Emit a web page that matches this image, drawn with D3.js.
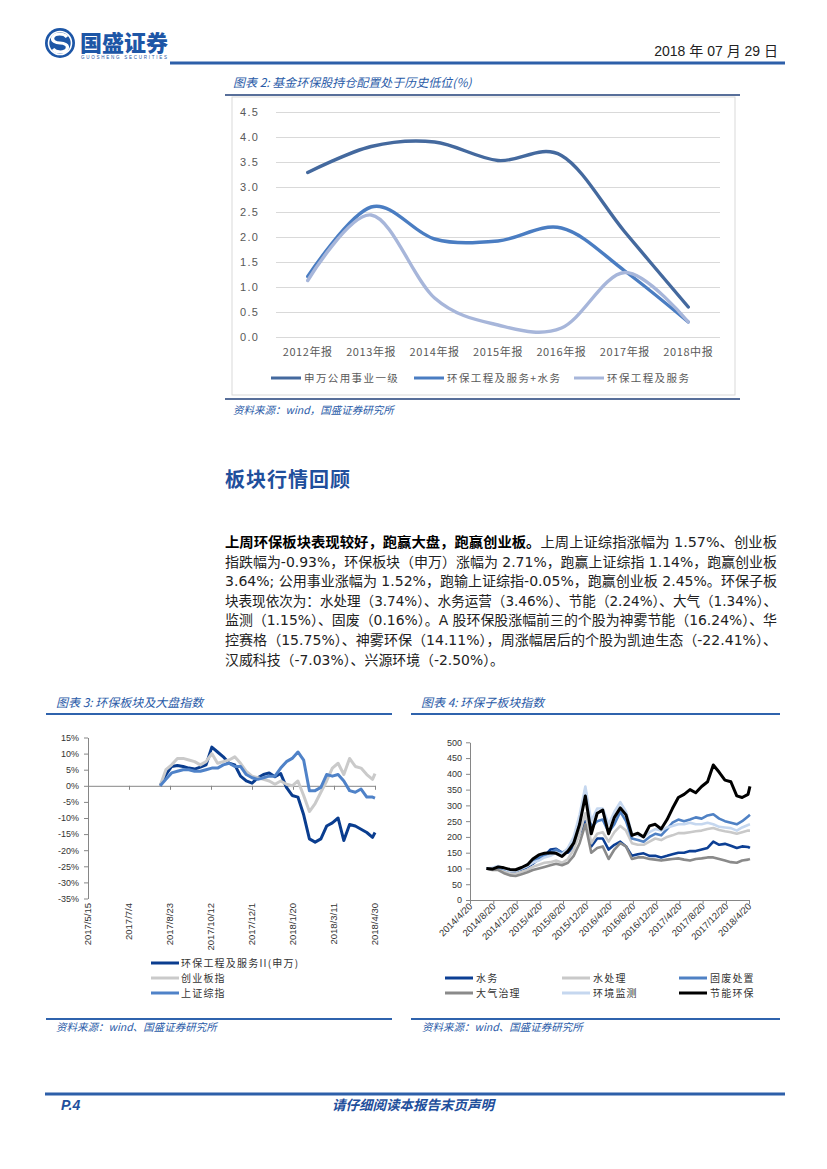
<!DOCTYPE html>
<html>
<head>
<meta charset="utf-8">
<script src="https://cdn.jsdelivr.net/npm/d3@7"></script>
<style>
  body { margin: 0; background: #fff; }
  svg { display: block; font-family: "Liberation Sans", Arial, "Noto Sans CJK SC", sans-serif; }
  .cjk { font-family: "Noto Sans CJK SC", sans-serif; }
  .axis path, .axis line { stroke: #868686; }
</style>
</head>
<body>
<div id="page"></div>
<script>
// ---- chart 2: fund holdings (%)
var years2 = ["2012年报", "2013年报", "2014年报", "2015年报", "2016年报", "2017年报", "2018中报"];
var utility2 = [3.29, 3.81, 3.90, 3.53, 3.63, 2.10, 0.60];
var envWater2 = [1.21, 2.60, 1.96, 1.92, 2.18, 1.32, 0.30];
var envEng2 = [1.13, 2.44, 0.78, 0.24, 0.18, 1.29, 0.30];
var names2 = ["申万公用事业一级", "环保工程及服务+水务", "环保工程及服务"];

// ---- chart 3: sector vs market (weekly readings)
var dates3 = ["2017-08-11", "2017-08-18", "2017-08-25", "2017-09-01", "2017-09-08", "2017-09-15", "2017-09-22",
  "2017-09-29", "2017-10-06", "2017-10-13", "2017-10-20", "2017-10-27", "2017-11-03", "2017-11-10", "2017-11-17",
  "2017-11-24", "2017-12-01", "2017-12-08", "2017-12-15", "2017-12-22", "2017-12-29", "2018-01-05", "2018-01-12",
  "2018-01-19", "2018-01-26", "2018-02-02", "2018-02-09", "2018-02-16", "2018-02-23", "2018-03-02", "2018-03-09",
  "2018-03-16", "2018-03-23", "2018-03-30", "2018-04-06", "2018-04-13", "2018-04-20", "2018-04-27", "2018-04-30"];
var envSvc3 = [0, 3.5, 6.0, 6.3, 6.0, 5.5, 5.2, 5.8, 6.5, 12.0, 10.5, 9.0, 7.0, 6.5, 3.0, 1.5, 0.8, 2.5, 3.5,
  4.0, 2.8, 3.8, -0.5, -3.0, -3.5, -9.0, -16.5, -17.5, -16.5, -12.5, -11.5, -10.0, -17.0, -12.0, -12.5, -13.5,
  -14.5, -16.0, -14.5];
var gem3 = [0, 5.0, 6.5, 8.5, 8.5, 8.0, 7.5, 6.5, 7.5, 10.0, 7.0, 7.5, 8.0, 9.0, 7.0, 4.5, 3.0, 2.5, 2.0, 1.5,
  0.5, 1.5, 0.5, 0.0, 1.5, -3.0, -8.0, -5.5, -2.0, 1.5, 5.5, 7.0, 3.5, 8.5, 6.0, 5.5, 3.5, 2.0, 3.8];
var sh3 = [0, 2.0, 4.0, 4.5, 5.0, 5.0, 4.5, 4.5, 5.0, 5.5, 5.5, 6.5, 7.0, 6.0, 6.0, 3.5, 2.5, 2.0, 2.5, 3.0,
  3.0, 5.5, 7.5, 8.5, 10.5, 8.0, -1.5, -1.5, -0.5, 3.5, 3.0, 3.5, 1.5, -1.5, -2.0, -1.0, -3.5, -3.5, -3.8];
var names3 = ["环保工程及服务II(申万)", "创业板指", "上证综指"];
var ticks3 = ["2017/5/15", "2017/7/4", "2017/8/23", "2017/10/12", "2017/12/1", "2018/1/20", "2018/3/11", "2018/4/30"];

// ---- chart 4: sub-sector indices (monthly readings)
var dates4 = ["2014-07-15", "2014-08-15", "2014-09-15", "2014-10-15", "2014-11-15", "2014-12-15",
  "2015-01-15", "2015-02-15", "2015-03-15", "2015-04-15", "2015-05-15", "2015-06-15", "2015-07-15", "2015-08-15",
  "2015-09-15", "2015-10-15", "2015-11-15", "2015-12-15", "2016-01-15", "2016-02-15", "2016-03-15", "2016-04-15",
  "2016-05-15", "2016-06-15", "2016-07-15", "2016-08-15", "2016-09-15", "2016-10-15", "2016-11-15", "2016-12-15",
  "2017-01-15", "2017-02-15", "2017-03-15", "2017-04-15", "2017-05-15", "2017-06-15", "2017-07-15", "2017-08-15",
  "2017-09-15", "2017-10-15", "2017-11-15", "2017-12-15", "2018-01-15", "2018-02-15", "2018-03-15", "2018-04-15",
  "2018-04-25"];
var water4 = [100, 98, 102, 95, 88, 88, 95, 105, 115, 130, 140, 160, 162, 150, 150, 170, 210, 250, 170, 195, 195,
  160, 175, 185, 170, 140, 145, 148, 140, 140, 135, 140, 145, 150, 150, 155, 155, 160, 165, 185, 175, 178, 172,
  165, 170, 168, 165];
var treat4 = [100, 97, 100, 92, 85, 84, 90, 96, 105, 112, 118, 120, 125, 118, 130, 160, 210, 275, 180, 210, 215,
  185, 215, 235, 220, 180, 175, 175, 185, 195, 190, 200, 205, 212, 212, 215, 218, 220, 225, 228, 222, 218, 215,
  210, 215, 220, 220];
var solid4 = [100, 100, 103, 98, 93, 92, 100, 108, 120, 135, 140, 150, 160, 150, 160, 190, 250, 350, 230, 250, 255,
  215, 240, 280, 250, 195, 190, 185, 200, 210, 205, 225, 245, 255, 250, 255, 262, 258, 268, 272, 258, 250, 245,
  240, 250, 265, 270];
var air4 = [100, 95, 95, 85, 78, 76, 82, 88, 95, 100, 105, 110, 115, 110, 118, 140, 180, 240, 150, 165, 170, 130,
  160, 180, 170, 130, 135, 135, 130, 128, 125, 128, 130, 132, 128, 125, 130, 132, 135, 135, 130, 125, 120, 118,
  125, 128, 130];
var monitor4 = [100, 102, 108, 100, 92, 92, 100, 108, 118, 125, 135, 140, 150, 145, 165, 200, 270, 360, 250, 290,
  290, 240, 280, 310, 280, 210, 205, 200, 215, 225, 220, 230, 235, 240, 240, 245, 240, 240, 245, 240, 232, 230,
  228, 220, 230, 238, 240];
var energy4 = [100, 98, 105, 102, 97, 96, 103, 112, 130, 143, 148, 150, 148, 138, 155, 180, 240, 330, 210, 275,
  285, 210, 262, 292, 270, 205, 212, 200, 235, 240, 225, 255, 290, 325, 335, 350, 340, 360, 375, 428, 405, 380,
  375, 330, 325, 335, 360];
var names4 = ["水务", "水处理", "固废处置", "大气治理", "环境监测", "节能环保"];
var ticks4 = ["2014/4/20", "2014/8/20", "2014/12/20", "2015/4/20", "2015/8/20", "2015/12/20", "2016/4/20",
  "2016/8/20", "2016/12/20", "2017/4/20", "2017/8/20", "2017/12/20", "2018/4/20"];

var paragraph = [
  ["上周环保板块表现较好，跑赢大盘，跑赢创业板。", "上周上证综指涨幅为 1.57%、创业板"],
  ["", "指跌幅为-0.93%，环保板块（申万）涨幅为 2.71%，跑赢上证综指 1.14%，跑赢创业板"],
  ["", "3.64%; 公用事业涨幅为 1.52%，跑输上证综指-0.05%，跑赢创业板 2.45%。环保子板"],
  ["", "块表现依次为：水处理（3.74%）、水务运营（3.46%）、节能（2.24%）、大气（1.34%）、"],
  ["", "监测（1.15%）、固废（0.16%）。A 股环保股涨幅前三的个股为神雾节能（16.24%）、华"],
  ["", "控赛格（15.75%）、神雾环保（14.11%），周涨幅居后的个股为凯迪生态（-22.41%）、"],
  ["", "汉威科技（-7.03%）、兴源环境（-2.50%）。"]
];

var blue = "#1f4f9c";
var width = 827, height = 1169;
var parseDash = d3.timeParse("%Y-%m-%d");
var parseSlash = d3.timeParse("%Y/%m/%d");

var svg = d3.select("#page").append("svg")
  .attr("width", width)
  .attr("height", height);
svg.append("rect").attr("width", width).attr("height", height).attr("fill", "#fff");

// ---- header
var logo = svg.append("g");
logo.append("circle").attr("cx", 60).attr("cy", 43).attr("r", 15).attr("fill", "#1d56a6");
logo.append("circle").attr("cx", 60).attr("cy", 43).attr("r", 11.5).attr("fill", "none")
  .attr("stroke", "#fff").attr("stroke-width", 1.6);
logo.append("path")
  .attr("d", "M67,37 C64,33 55,33 53,37 C51,41 56,43 60,43 C64,43 69,45 67,49 C65,53 56,53 53,49")
  .attr("fill", "none").attr("stroke", "#fff").attr("stroke-width", 3.2);
svg.append("text").attr("class", "cjk").attr("x", 80).attr("y", 51)
  .attr("font-size", 22).attr("font-weight", 900).attr("fill", "#1d56a6")
  .attr("textLength", 88).attr("lengthAdjust", "spacingAndGlyphs").text("国盛证券");
svg.append("text").attr("x", 81).attr("y", 59).attr("font-size", 4.5).attr("fill", "#1d56a6")
  .attr("textLength", 86).text("GUOSHENG SECURITIES");
svg.append("text").attr("x", 778).attr("y", 56).attr("text-anchor", "end").attr("font-size", 14)
  .attr("fill", "#222").text("2018 年 07 月 29 日");
svg.append("line").attr("x1", 170).attr("x2", 785).attr("y1", 63).attr("y2", 63)
  .attr("stroke", "#2d5fa9").attr("stroke-width", 3);

function title(x, y, s, size) {
  svg.append("text").attr("class", "cjk").attr("x", x).attr("y", y)
    .attr("font-size", size).attr("font-style", "italic").attr("fill", "#2a5ba8").text(s);
}
function rule(x1, x2, y, color, w) {
  svg.append("line").attr("x1", x1).attr("x2", x2).attr("y1", y).attr("y2", y)
    .attr("stroke", color).attr("stroke-width", w);
}

// ---- chart 2
title(233, 87, "图表 2: 基金环保股持仓配置处于历史低位(%)", 12);
rule(225, 740, 95, "#203f78", 1.5);
svg.append("rect").attr("x", 232).attr("y", 97).attr("width", 503).attr("height", 298)
  .attr("fill", "none").attr("stroke", "#d9d9d9");

var x2 = d3.scaleBand().domain(years2).range([276, 720]);
var y2 = d3.scaleLinear().domain([0, 4.5]).range([337, 112]);

var yAxis2 = svg.append("g").attr("transform", "translate(276,0)")
  .call(d3.axisLeft(y2).tickValues(y2.ticks(9)).tickSize(-444).tickPadding(17).tickFormat(d3.format(".1f")));
yAxis2.select(".domain").remove();
yAxis2.selectAll("line").attr("stroke", "#d9d9d9");
yAxis2.selectAll("text").attr("fill", "#595959").attr("font-size", 11).attr("letter-spacing", 1.2);

var xAxis2 = svg.append("g").attr("transform", "translate(0,337)")
  .call(d3.axisBottom(x2).tickSize(0).tickPadding(11));
xAxis2.select(".domain").remove();
xAxis2.selectAll("text").attr("class", "cjk").attr("fill", "#595959").attr("font-size", 11).attr("letter-spacing", 0.6);

var series2 = [utility2, envWater2, envEng2];
var colors2 = ["#44699e", "#4a7dc2", "#a7b6da"];
var line2 = d3.line()
  .x(function(d, i) { return x2(years2[i]) + x2.bandwidth() / 2; })
  .y(function(d) { return y2(d); })
  .curve(d3.curveCatmullRom.alpha(0));
svg.selectAll(".s2").data(series2).enter().append("path")
  .attr("d", line2).attr("fill", "none")
  .attr("stroke", function(d, i) { return colors2[i]; })
  .attr("stroke-width", 3.4).attr("stroke-linecap", "round");

var legX2 = [271, 414, 574];
names2.forEach(function(n, i) {
  rule(legX2[i], legX2[i] + 30, 378, colors2[i], 3);
  svg.append("text").attr("class", "cjk").attr("x", legX2[i] + 33).attr("y", 382)
    .attr("font-size", 10.5).attr("letter-spacing", 1.4).attr("fill", "#595959").text(n);
});
rule(225, 740, 399, "#203f78", 1.5);
title(233, 414, "资料来源：wind，国盛证券研究所", 10.5);

// ---- section title and text
svg.append("text").attr("class", "cjk").attr("x", 225).attr("y", 487)
  .attr("font-size", 20).attr("font-weight", 700).attr("letter-spacing", 1).attr("fill", blue)
  .text("板块行情回顾");

paragraph.forEach(function(p, i) {
  var t = svg.append("text").attr("x", 225).attr("y", 547 + i * 19.6)
    .attr("font-size", 14).attr("fill", "#222")
    .style("font-family", "'DejaVu Sans', 'Noto Sans CJK SC', sans-serif");
  if (p[0]) t.append("tspan").attr("font-weight", 700).attr("fill", "#000")
    .style("font-family", "'Noto Sans CJK SC', sans-serif").text(p[0]);
  t.append("tspan").text(p[1]);
  t.attr("textLength", i < paragraph.length - 1 ? 552 : 279).attr("lengthAdjust", "spacingAndGlyphs");
});

// ---- chart 3
title(56, 707, "图表 3: 环保板块及大盘指数", 12);
rule(46, 392, 714, "#2f63ad", 2);

var x3 = d3.scaleTime().domain([parseSlash(ticks3[0]), parseSlash(ticks3[ticks3.length - 1])]).range([88, 375]);
var y3 = d3.scaleLinear().domain([-35, 15]).range([898.5, 737.5]);

var yAxis3 = svg.append("g").attr("class", "axis").attr("transform", "translate(88,0)")
  .call(d3.axisLeft(y3).tickValues(d3.range(-35, 16, 5)).tickSize(4).tickSizeOuter(0).tickPadding(5)
    .tickFormat(function(d) { return d + "%"; }));
yAxis3.selectAll("text").attr("font-size", 9).attr("fill", "#333");

var xAxis3 = svg.append("g").attr("class", "axis").attr("transform", "translate(0," + y3(0) + ")")
  .call(d3.axisBottom(x3).tickValues(ticks3.map(parseSlash)).tickSize(4).tickSizeOuter(0).tickFormat(""));

svg.selectAll(".t3").data(ticks3).enter().append("text")
  .attr("transform", function(d) { return "translate(" + (x3(parseSlash(d)) + 3) + ",903) rotate(-90)"; })
  .attr("text-anchor", "end").attr("font-size", 9.5).attr("fill", "#333").text(function(d) { return d; });

var series3 = [envSvc3, gem3, sh3];
var colors3 = ["#0a3d8f", "#cacaca", "#4f82c8"];
var line3 = d3.line()
  .x(function(d, i) { return x3(parseDash(dates3[i])); })
  .y(function(d) { return y3(d); });
svg.selectAll(".s3").data(series3).enter().append("path")
  .attr("d", line3).attr("fill", "none")
  .attr("stroke", function(d, i) { return colors3[i]; })
  .attr("stroke-width", 3).attr("stroke-linejoin", "round");

names3.forEach(function(n, i) {
  rule(151, 179, 963 + i * 15, colors3[i], 3);
  svg.append("text").attr("class", "cjk").attr("x", 181).attr("y", 967 + i * 15)
    .attr("font-size", 10).attr("letter-spacing", 1.2).attr("fill", "#333").text(n);
});
rule(46, 392, 1019, "#2f63ad", 2);
title(56, 1031, "资料来源：wind、国盛证券研究所", 10.5);

// ---- chart 4
title(421, 707, "图表 4: 环保子板块指数", 12);
rule(411, 780, 714, "#2f63ad", 2);

var x4 = d3.scaleTime().domain([parseSlash(ticks4[0]), parseSlash(ticks4[ticks4.length - 1])]).range([470, 749]);
var y4 = d3.scaleLinear().domain([0, 500]).range([900, 742.3]);

var yAxis4 = svg.append("g").attr("class", "axis").attr("transform", "translate(470,0)")
  .call(d3.axisLeft(y4).tickValues(d3.range(0, 501, 50)).tickSize(4).tickSizeOuter(0).tickPadding(4));
yAxis4.selectAll("text").attr("font-size", 9).attr("fill", "#333");

svg.append("g").attr("class", "axis").attr("transform", "translate(0,900)")
  .call(d3.axisBottom(x4).tickValues(ticks4.map(parseSlash)).tickSize(4).tickSizeOuter(0).tickFormat(""));

svg.selectAll(".t4").data(ticks4).enter().append("text")
  .attr("transform", function(d) { return "translate(" + (x4(parseSlash(d)) + 3) + ",907) rotate(-45)"; })
  .attr("text-anchor", "end").attr("font-size", 9.5).attr("fill", "#333").text(function(d) { return d; });

var series4 = [water4, treat4, solid4, air4, monitor4, energy4];
var colors4 = ["#0c3f94", "#c9c9c9", "#4f81c4", "#8a8a8a", "#c5d7ef", "#000000"];
var line4 = d3.line()
  .x(function(d, i) { return x4(parseDash(dates4[i])); })
  .y(function(d) { return y4(d); });
svg.selectAll(".s4").data(series4).enter().append("path")
  .attr("d", line4).attr("fill", "none")
  .attr("stroke", function(d, i) { return colors4[i]; })
  .attr("stroke-width", function(d, i) { return i == 5 ? 3 : 2.6; })
  .attr("stroke-linejoin", "round");

var legX4 = [445, 562, 679];
names4.forEach(function(n, i) {
  var col = i % 3, row = Math.floor(i / 3);
  rule(legX4[col], legX4[col] + 28, 978 + row * 15, colors4[i], 3);
  svg.append("text").attr("class", "cjk").attr("x", legX4[col] + 31).attr("y", 982 + row * 15)
    .attr("font-size", 10).attr("letter-spacing", 1.2).attr("fill", "#333").text(n);
});
rule(411, 780, 1019, "#2f63ad", 2);
title(422, 1031, "资料来源：wind、国盛证券研究所", 10.5);

// ---- footer
rule(45, 785, 1094, "#2d5fa9", 3);
svg.append("text").attr("x", 61).attr("y", 1110).attr("font-size", 14).attr("font-weight", 700)
  .attr("font-style", "italic").attr("fill", blue).text("P.4");
svg.append("text").attr("class", "cjk").attr("x", 413).attr("y", 1110).attr("text-anchor", "middle")
  .attr("font-size", 13.5).attr("font-weight", 700).attr("font-style", "italic").attr("fill", blue)
  .text("请仔细阅读本报告末页声明");
</script>
</body>
</html>
